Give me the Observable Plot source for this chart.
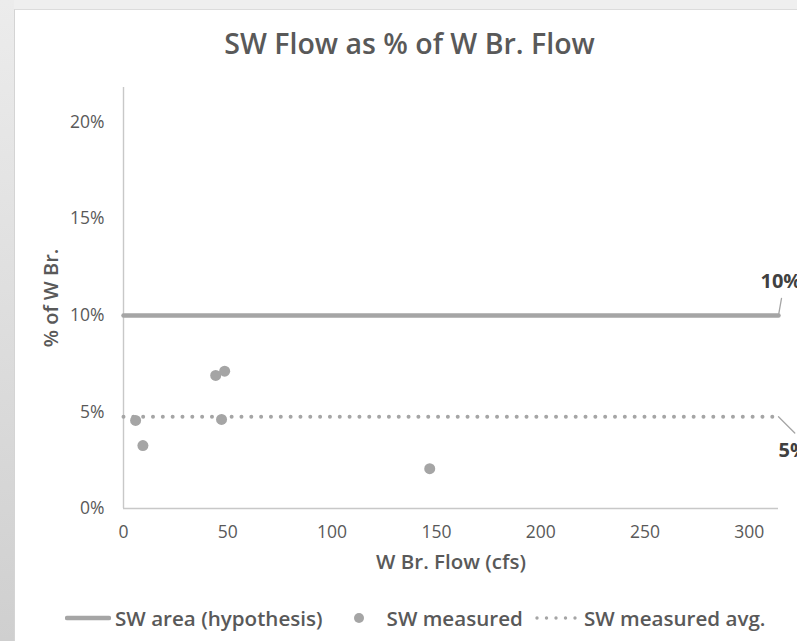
<!DOCTYPE html>
<html>
<head>
<meta charset="utf-8">
<script src="https://cdn.jsdelivr.net/npm/d3@7"></script>
<script src="https://cdn.jsdelivr.net/npm/@observablehq/plot@0.6"></script>
<style>
  html, body { margin: 0; padding: 0; }
  body { width: 797px; height: 641px; overflow: hidden; position: relative; background: #efefef; font-family: "Open Sans", sans-serif; }
  #strip { position: absolute; left: 0; top: 0; width: 14px; height: 641px; background: linear-gradient(to bottom, #ececec, #cfcfcf); }
  #card { position: absolute; left: 14px; top: 9px; width: 800px; height: 640px; background: #fff; border-top: 1px solid #dcdcdc; border-left: 1px solid #d4d4d4; }
  #title { position: absolute; left: 0; top: 24px; width: 819px; text-align: center; font-size: 28.5px; font-weight: 600; color: #595959; line-height: normal; white-space: nowrap; }
  #chart { position: absolute; left: 0; top: 73px; }
  #legend { position: absolute; left: 65px; top: 604px; height: 28px; display: flex; align-items: center; font-size: 20.6px; font-weight: 600; color: #595959; white-space: nowrap; }
  #legend svg { display: block; }
</style>
</head>
<body>
<div id="strip"></div>
<div id="card"></div>
<div id="title"></div>
<div id="chart"></div>
<div id="legend"></div>
<script>
// ---- data ----
const flowCfs = [5.8, 9.3, 44.2, 48.5, 47.0, 146.8];
const swPct   = [0.0456, 0.0326, 0.0689, 0.0711, 0.0461, 0.0206];
const hypFlow = [0, 314];
const hypPct  = [0.10, 0.10];
const avgFlow = [0, 314];
const avgPct  = [0.0475, 0.0475];
const xTicks  = [0, 50, 100, 150, 200, 250, 300];
const yTicks  = [0, 0.05, 0.10, 0.15, 0.20];
const seriesNames = ["SW area (hypothesis)", "SW measured", "SW measured avg."];
const chartTitle = "SW Flow as % of W Br. Flow";
const xTitle = "W Br. Flow (cfs)";
const yTitle = "% of W Br.";

const points = flowCfs.map((x, i) => ({x, y: swPct[i]}));
const hyp = hypFlow.map((x, i) => ({x, y: hypPct[i]}));
const avg = avgFlow.map((x, i) => ({x, y: avgPct[i]}));

const grey = "#a5a5a5";
const textCol = "#595959";
const pctFmt = d3.format(".0%");
const leader = {draw(context, l) { context.moveTo(0, 0); context.lineTo(0, -l); }};

document.getElementById("title").textContent = chartTitle;

const chart = Plot.plot({
  width: 797,
  height: 510,
  marginLeft: 123,
  marginRight: 19,
  marginTop: 14,
  marginBottom: 75,
  style: {fontFamily: "'Open Sans', sans-serif", color: textCol, background: "transparent", overflow: "visible"},
  x: {domain: [0, 314]},
  y: {domain: [0, 0.218]},
  marks: [
    Plot.axisX(xTicks, {tickSize: 0, tickPadding: 17, fontSize: 17.5, fill: textCol, label: null}),
    Plot.axisY(yTicks, {tickSize: 0, tickPadding: 19, fontSize: 17.5, fill: textCol, tickFormat: pctFmt, label: null}),
    Plot.text([xTitle], {frameAnchor: "bottom", dy: 60, fontSize: 20.5, fontWeight: 600, fill: textCol}),
    Plot.text([yTitle], {frameAnchor: "left", textAnchor: "middle", dx: -72, rotate: -90, fontSize: 20, fontWeight: 600, fill: textCol}),
    Plot.ruleY([0], {stroke: "#c8c8c8", strokeWidth: 1.4}),
    Plot.ruleX([0], {stroke: "#c8c8c8", strokeWidth: 1.4}),
    Plot.line(avg, {x: "x", y: "y", stroke: grey, strokeWidth: 4, strokeDasharray: "0 9.83", strokeLinecap: "round"}),
    Plot.line(hyp, {x: "x", y: "y", stroke: grey, strokeWidth: 4.5}),
    Plot.dot(points, {x: "x", y: "y", r: 5.5, fill: grey}),
    Plot.vector(hyp.slice(-1), {x: "x", y: "y", length: 17.3, rotate: 10, anchor: "start", shape: leader, stroke: grey, strokeWidth: 1.3}),
    Plot.vector(avg.slice(-1), {x: "x", y: "y", length: 23, rotate: 135, anchor: "start", shape: leader, stroke: grey, strokeWidth: 1.3}),
    Plot.text(hyp.slice(-1), {x: "x", y: "y", text: d => pctFmt(d.y), dx: -18, dy: -34, textAnchor: "start", fontSize: 20, fontWeight: 700, fill: "#404040"}),
    Plot.text(avg.slice(-1), {x: "x", y: "y", text: d => pctFmt(d.y), dx: 0, dy: 34, textAnchor: "start", fontSize: 20, fontWeight: 700, fill: "#404040"})
  ]
});
document.getElementById("chart").appendChild(chart);

// ---- legend ----
const legend = d3.select("#legend");
function swatch(kind) {
  const s = legend.append("svg").attr("height", 12);
  if (kind === 0) {
    s.attr("width", 46);
    s.append("line").attr("x1", 2).attr("x2", 44).attr("y1", 6).attr("y2", 6)
      .attr("stroke", grey).attr("stroke-width", 4.5).attr("stroke-linecap", "round");
  } else if (kind === 1) {
    s.attr("width", 12);
    s.append("circle").attr("cx", 6).attr("cy", 6).attr("r", 5).attr("fill", grey);
  } else {
    s.attr("width", 44);
    s.append("line").attr("x1", 3).attr("x2", 42).attr("y1", 6).attr("y2", 6)
      .attr("stroke", grey).attr("stroke-width", 3.4).attr("stroke-linecap", "round").attr("stroke-dasharray", "0 9.5");
  }
  return s;
}
swatch(0).style("margin-right", "4px");
legend.append("span").text(seriesNames[0]);
swatch(1).style("margin-left", "30px").style("margin-right", "22px");
legend.append("span").text(seriesNames[1]);
swatch(2).style("margin-left", "11px").style("margin-right", "6px");
legend.append("span").text(seriesNames[2]);
</script>
</body>
</html>
